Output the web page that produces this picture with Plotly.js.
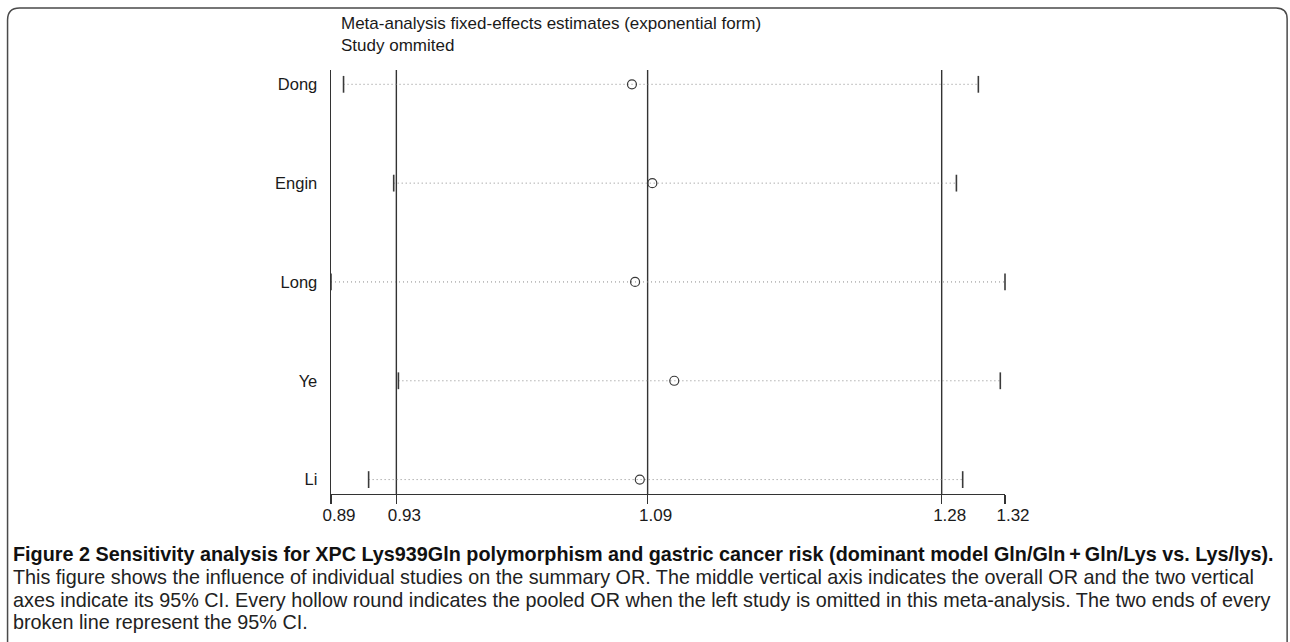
<!DOCTYPE html>
<html>
<head>
<meta charset="utf-8">
<script src="https://cdn.plot.ly/plotly-3.0.1.min.js"></script>
<style>
html,body{margin:0;padding:0;background:#fff;}
#chart{width:1290px;height:642px;}
</style>
</head>
<body>
<div id="chart"></div>
<script>
// ---- data ----
var studies = ['Dong', 'Engin', 'Long', 'Ye', 'Li'];
var estimates = [1.082, 1.095, 1.084, 1.109, 1.087];
var lowerCI = [0.898, 0.930, 0.890, 0.933, 0.914];
var upperCI = [1.303, 1.289, 1.320, 1.317, 1.293];
var overall = [0.9317, 1.092, 1.2796]; // lower CI, pooled OR, upper CI
var tickValues = [0.890, 0.9317, 1.092, 1.2796, 1.320];
var tickLabels = ['0.89', '0.93', '1.09', '1.28', '1.32'];
var titleLines = ['Meta-analysis fixed-effects estimates (exponential form)', 'Study ommited'];
var captionBold = 'Figure 2 Sensitivity analysis for XPC Lys939Gln polymorphism and gastric cancer risk (dominant model Gln/Gln\u2009+\u2009Gln/Lys vs. Lys/lys).';
var captionLines = [
  'This figure shows the influence of individual studies on the summary OR. The middle vertical axis indicates the overall OR and the two vertical',
  'axes indicate its 95% CI. Every hollow round indicates the pooled OR when the left study is omitted in this meta-analysis. The two ends of every',
  'broken line represent the 95% CI.'
];

// ---- geometry ----
var W = 1290, H = 642;
var L = 331.3, R = 1005, T = 70, B = 493.7;
var PW = R - L, PH = B - T;
function px(x){ return (x - L) / PW; }
function py(y){ return (B - y) / PH; }

var yPos = studies.map(function(s, i){ return studies.length - i; });
var xMin = Math.min.apply(null, lowerCI), xMax = Math.max.apply(null, upperCI);

var traces = [];
studies.forEach(function(s, i){
  traces.push({
    type: 'scatter', mode: 'lines',
    x: [lowerCI[i], upperCI[i]], y: [yPos[i], yPos[i]],
    line: {color: '#8a8a8a', width: 1, dash: '1px,3px'},
    hoverinfo: 'skip', showlegend: false, cliponaxis: false
  });
});
var capX = [], capY = [];
studies.forEach(function(s, i){ capX.push(lowerCI[i], upperCI[i]); capY.push(yPos[i], yPos[i]); });
traces.push({
  type: 'scatter', mode: 'markers', x: capX, y: capY,
  marker: {symbol: 'line-ns-open', size: 12, color: '#3a3a3a', line: {color: '#3a3a3a', width: 1.6}},
  showlegend: false, cliponaxis: false
});
traces.push({
  type: 'scatter', mode: 'markers', x: estimates, y: yPos,
  marker: {symbol: 'circle-open', size: 9, color: '#3a3a3a', line: {color: '#3a3a3a', width: 1.2}},
  showlegend: false, cliponaxis: false
});

var yLo = 1 - (B - 479.3) / 98.75, yHi = 5 + (84.3 - T) / 98.75;

var shapes = overall.map(function(v){
  return {type: 'line', xref: 'x', yref: 'paper', x0: v, x1: v, y0: 0, y1: 1,
          line: {color: '#333', width: 1.4}, layer: 'below'};
});
// figure frame
shapes.push({
  type: 'path', xref: 'paper', yref: 'paper',
  path: 'M ' + px(8) + ',' + py(H + 2) + ' L ' + px(8) + ',' + py(20) +
        ' Q ' + px(8) + ',' + py(8) + ' ' + px(20) + ',' + py(8) +
        ' L ' + px(1276) + ',' + py(8) +
        ' Q ' + px(1287) + ',' + py(8) + ' ' + px(1287) + ',' + py(19) +
        ' L ' + px(1287) + ',' + py(H + 2),
  line: {color: '#4a4a4a', width: 1.5}
});

var annotations = [];
var chartFont = 'Liberation Sans, Arial, sans-serif';
annotations.push({xref: 'paper', yref: 'paper', x: px(339), y: py(24), xanchor: 'left', yanchor: 'middle',
  text: titleLines[0], showarrow: false, font: {family: chartFont, size: 17, color: '#1a1a1a'}});
annotations.push({xref: 'paper', yref: 'paper', x: px(339), y: py(46), xanchor: 'left', yanchor: 'middle',
  text: titleLines[1], showarrow: false, font: {family: chartFont, size: 17, color: '#1a1a1a'}});
var capFont = 'Liberation Sans, Arial, sans-serif';
annotations.push({xref: 'paper', yref: 'paper', x: px(11), y: py(554), xanchor: 'left', yanchor: 'middle',
  text: '<b>' + captionBold + '</b>', showarrow: false, font: {family: capFont, size: 19.8, color: '#111'}});
[577, 599.5, 622].forEach(function(yy, k){
  annotations.push({xref: 'paper', yref: 'paper', x: px(11), y: py(yy), xanchor: 'left', yanchor: 'middle',
    text: captionLines[k], showarrow: false, font: {family: capFont, size: 19.8, color: '#222'}});
});

var layout = {
  width: W, height: H,
  margin: {l: L, r: W - R, t: T, b: H - B, autoexpand: false},
  paper_bgcolor: '#fff', plot_bgcolor: '#fff',
  showlegend: false,
  xaxis: {
    range: [xMin, xMax], tickmode: 'array', tickvals: tickValues, ticktext: tickLabels,
    showgrid: false, zeroline: false, showline: true, linecolor: '#333', linewidth: 1.4,
    ticks: 'outside', ticklen: 9, tickwidth: 1.4, tickcolor: '#333',
    ticklabelshift: 8, ticklabelstandoff: -4,
    tickfont: {family: chartFont, size: 17, color: '#1a1a1a'}
  },
  yaxis: {
    range: [yLo, yHi], tickmode: 'array', tickvals: yPos, ticktext: studies,
    showgrid: false, zeroline: false, showline: true, linecolor: '#333', linewidth: 1.4,
    ticks: 'outside', ticklen: 9, tickcolor: 'rgba(0,0,0,0)',
    tickfont: {family: chartFont, size: 16.5, color: '#1a1a1a'}
  },
  shapes: shapes,
  annotations: annotations
};

Plotly.newPlot('chart', traces, layout, {staticPlot: true, displayModeBar: false});
</script>
</body>
</html>
